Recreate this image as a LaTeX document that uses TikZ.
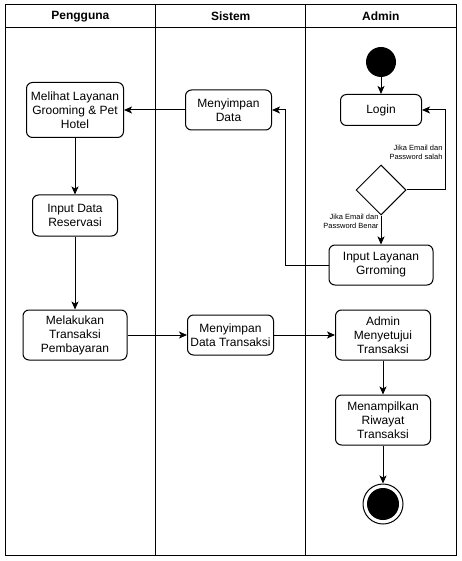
\documentclass[tikz,border=0pt]{standalone}
\usepackage{fontspec}
\setmainfont{Liberation Sans}
\usetikzlibrary{positioning, shapes.geometric, arrows.meta}

\tikzset{
	act/.style = {rectangle, draw, rounded corners = 6pt, align = center, inner sep = 0,
		font = \fontsize{12}{14}\selectfont},
	cond/.style = {align = right, inner sep = 0, font = \fontsize{7.5}{9}\selectfont},
	head/.style = {font = \fontsize{12}{14}\selectfont\bfseries},
}

\begin{document}
\begin{tikzpicture}[x = 1pt, y = 1pt, on grid, line width = 1pt]
	\useasboundingbox (0,0) rectangle (461,-561);
	% swimlanes
	\draw (5,-5) rectangle (456,-555);
	\draw (5,-28) -- (456,-28);
	\draw (155.7,-5) -- (155.7,-555);
	\draw (305.7,-5) -- (305.7,-555);
	\node (penggunahead) [head] at (80.4,-16.5) {Pengguna};
	\node (sistemhead) [head] at (230.7,-16.5) {Sistem};
	\node (adminhead) [head] at (380.9,-16.5) {Admin};
	
	\node (a) [circle, fill, minimum size = 30pt, inner sep = 0] at (381,-62) {};
	\node (b) [act, below = 48pt of a, minimum width = 81pt, minimum height = 31pt] {Login};
	\node (c) [diamond, draw, below = 80pt of b, minimum width = 50pt, minimum height = 50pt, inner sep = 0] {};
	\node (d) [act, below = 75pt of c, minimum width = 104pt, minimum height = 40pt]
		{Input Layanan\\Grroming};
	
	\node (e) [act, left = 152.5pt of b, minimum width = 86pt, minimum height = 40pt]
		{Menyimpan\\Data};
	\node (f) [act, left = 153.5pt of e, minimum width = 97pt, minimum height = 55pt]
		{Melihat Layanan\\Grooming \& Pet\\Hotel};
	\node (g) [act, below = 105.5pt of f, minimum width = 85pt, minimum height = 41pt]
		{Input Data\\Reservasi};
	\node (h) [act, below = 119.5pt of g, minimum width = 104pt, minimum height = 50pt]
		{Melakukan\\Transaksi\\Pembayaran};
	\node (i) [act, right = 155.5pt of h, minimum width = 86pt, minimum height = 40pt]
		{Menyimpan\\Data Transaksi};
	\node (j) [act, right = 152.5pt of i, minimum width = 95pt, minimum height = 50pt]
		{Admin\\Menyetujui\\Transaksi};
	\node (k) [act, below = 85pt of j, minimum width = 95pt, minimum height = 50pt]
		{Menampilkan\\Riwayat\\Transaksi};
	\node (l) [circle, draw, below = 84pt of k, minimum size = 40pt, inner sep = 0] {};
	\node (lfill) [circle, fill, minimum size = 32pt, inner sep = 0] at (l) {};
	
	\node (m) [cond, anchor = east] at (443,-152) {Jika Email dan\\Password salah};
	\node (n) [cond, anchor = east] at (379,-221) {Jika Email dan\\Password Benar};
	
	\begin{scope}[-{Stealth[length = 8pt, width = 7pt, inset = 2pt]}]
		\draw (a) -- (b);
		\draw (c.east) -- ++(39,0) |- (b.east);
		\draw (c) -- (d);
		\draw (d.west) -- ++(-43,0) |- (e.east);
		\draw (e) -- (f);
		\draw (f) -- (g);
		\draw (g) -- (h);
		\draw (h) -- (i);
		\draw (i) -- (j);
		\draw (j) -- (k);
		\draw (k) -- (l);
	\end{scope}
\end{tikzpicture}
\end{document}
